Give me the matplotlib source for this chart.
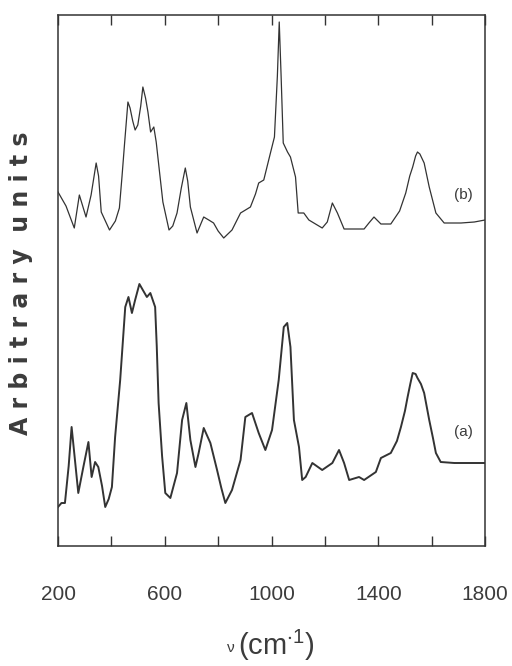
import matplotlib.pyplot as plt

# Raman shift (cm^-1) and intensity for spectrum (b), upper trace
wavenumber_b = [200, 230, 261, 280, 305, 324, 343, 352, 362, 393, 415, 430, 440,
                449, 462, 470, 480, 489, 499, 510, 518, 528, 537, 547, 559, 568,
                580, 593, 616, 630, 646, 662, 677, 686, 696, 721, 735, 746, 765,
                783, 800, 821, 852, 884, 921, 940, 952, 971, 996, 1011, 1022, 1029,
                1036, 1044, 1060, 1071, 1090, 1100, 1121, 1140, 1165, 1190, 1209,
                1228, 1247, 1272, 1347, 1365, 1384, 1410, 1447, 1480, 1503, 1518,
                1529, 1540, 1547, 1556, 1572, 1591, 1616, 1647, 1710, 1760, 1800]
intensity_b = [354, 340, 318, 351, 329, 351, 383, 370, 334, 316, 325, 338, 370,
               401, 444, 438, 425, 416, 421, 440, 459, 448, 434, 414, 419, 404,
               375, 344, 316, 320, 333, 358, 378, 365, 339, 313, 322, 329, 326,
               323, 315, 308, 316, 333, 339, 352, 363, 366, 393, 409, 470, 524,
               470, 403, 394, 389, 369, 333, 333, 326, 322, 318, 324,
               343, 333, 317, 317, 323, 329, 322, 322, 335, 353, 370,
               379, 390, 394, 392, 383, 359, 333, 323, 323, 324, 326]

# Spectrum (a), lower trace
wavenumber_a = [200, 213, 226, 240, 251, 262, 276, 295, 314, 326, 339, 351, 365,
                377, 390, 402, 414, 433, 452, 464, 477, 489, 505, 520, 533, 546,
                564, 570, 577, 590, 602, 621, 646, 665, 681, 696, 715, 727, 746,
                771, 796, 812, 827, 852, 884, 902, 927, 952, 977, 1002, 1027, 1046,
                1059, 1071, 1084, 1103, 1115, 1128, 1153, 1190, 1228, 1253, 1272,
                1291, 1328, 1347, 1391, 1410, 1447, 1470, 1485, 1500, 1510, 1520,
                1529, 1540, 1547, 1560, 1572, 1591, 1605, 1616, 1634, 1685, 1800]
intensity_a = [39, 43, 43, 80, 119, 90, 53, 79, 104, 69, 84, 79, 60,
               39, 47, 59, 109, 166, 239, 249, 233, 246, 262, 255, 249, 253,
               239, 200, 143, 90, 53, 48, 73, 126, 143, 106, 79, 93, 118,
               103, 76, 58, 43, 56, 86, 129, 133, 113, 96, 116, 166, 219,
               223, 199, 126, 99, 66, 69, 83, 76, 83, 96, 83,
               66, 69, 66, 74, 88, 93, 105, 119, 135, 149, 162,
               173, 172, 168, 162, 153, 126, 108, 93, 84, 83, 83]

major_ticks = [200, 600, 1000, 1400, 1800]
minor_ticks = [400, 800, 1200, 1600]

ink = "#333333"
text_ink = "#3c3c3c"
sans = ["Liberation Sans", "DejaVu Sans"]

fig = plt.figure(figsize=(5.12, 6.66), dpi=100)
ax = fig.add_axes([58 / 512, 120 / 666, 427 / 512, 531 / 666])

ax.plot(wavenumber_b, intensity_b, color=ink, linewidth=0.9)
ax.plot(wavenumber_a, intensity_a, color=ink, linewidth=1.4)

ax.text(1720, 351, "(b)", ha="center", va="center", fontsize=11,
        color=text_ink, family=sans)
ax.text(1718, 114, "(a)", ha="center", va="center", fontsize=11,
        color=text_ink, family=sans)

ax.set_xlim(200, 1800)
ax.set_ylim(0, 531)
ax.set_yticks([])
ax.set_xticks(major_ticks)
ax.set_xticks(minor_ticks, minor=True)
ax.set_xticklabels([str(t) for t in major_ticks], family=sans,
                   fontsize=15, color=text_ink)
ax.tick_params(axis="x", which="both", direction="in", top=True,
               length=7, width=1.0, color=ink, pad=28)
for spine in ax.spines.values():
    spine.set_color(ink)
    spine.set_linewidth(1.1)

# x-axis title: small nu followed by the unit
fig.text(231 / 512, 14 / 666, "ν", ha="center", va="baseline", fontsize=11,
         color=text_ink, family=sans)
fig.text(276 / 512, 11 / 666, "(cm$^{\\mathregular{\\cdot 1}}$)", ha="center",
         va="baseline", fontsize=21, color=text_ink, family=sans)

fig.text(21 / 512, (666 - 283) / 666, "A r b i t r a r y  u n i t s",
         rotation=90, ha="center", va="center", fontsize=17,
         fontweight="bold", color=text_ink, family="DejaVu Sans")

fig.savefig("out.png", dpi=100)
